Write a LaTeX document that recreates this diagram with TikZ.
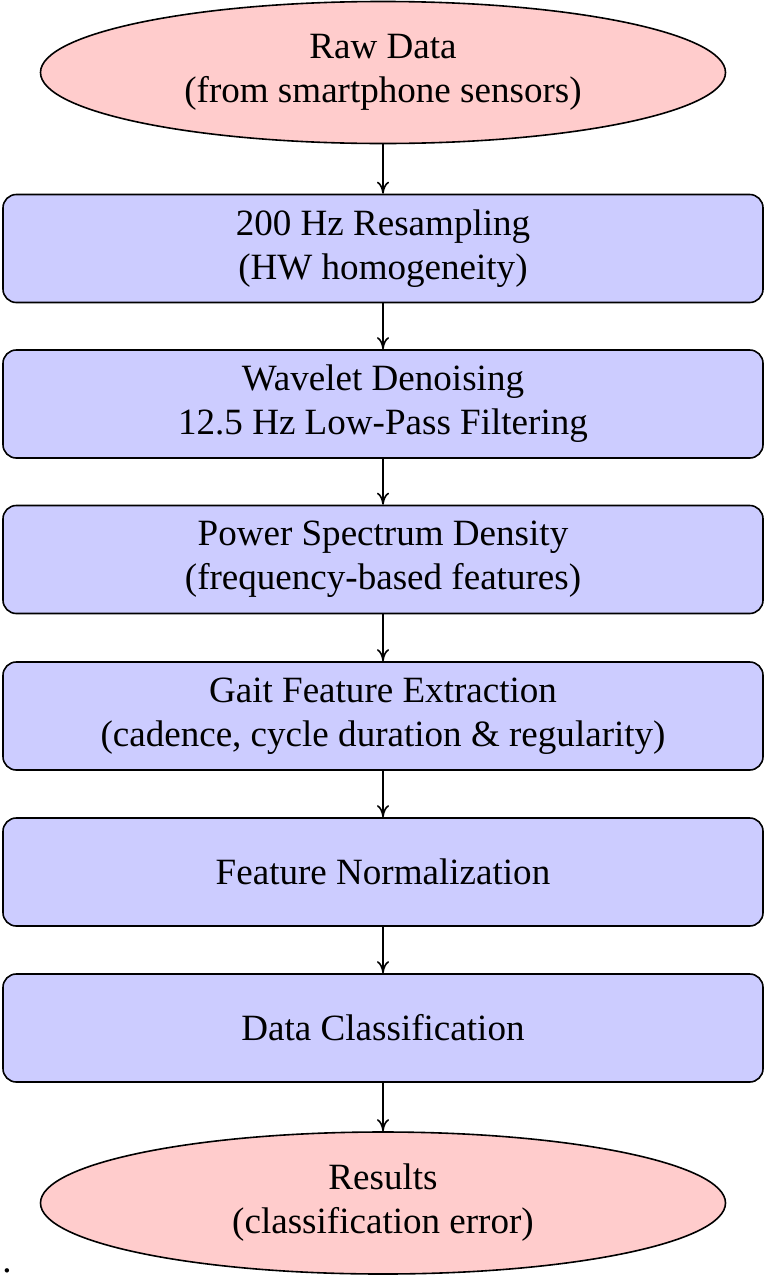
\documentclass[tikz,border=0pt]{standalone}
\usepackage{fontspec}
\setmainfont{Liberation Serif}
\usetikzlibrary{shapes.geometric,arrows.meta}
\begin{document}
\begin{tikzpicture}[x=0.75pt,y=-0.75pt,
  txt/.style={align=center,font=\fontsize{27.8}{33}\selectfont},
  term/.style={txt,ellipse,draw,line width=1.2pt,fill=red!20,minimum width=513.75pt,minimum height=106.5pt,inner sep=0pt},
  proc/.style={txt,rectangle,rounded corners=10pt,draw,line width=1.2pt,fill=blue!20,minimum width=570pt,minimum height=81pt,inner sep=0pt},
  arr/.style={line width=1.2pt,-{To[length=9pt,width=9pt]}}]
\useasboundingbox (0,0) rectangle (765,1278);
\node[term] (raw) at (383,72.5) {Raw Data\\(from smartphone sensors)};
\node[proc] (b1) at (383,248.5) {200 Hz Resampling\\(HW homogeneity)};
\node[proc] (b2) at (383,404) {Wavelet Denoising\\12.5 Hz Low-Pass Filtering};
\node[proc] (b3) at (383,559.5) {Power Spectrum Density\\(frequency-based features)};
\node[proc] (b4) at (383,716) {Gait Feature Extraction\\(cadence, cycle duration \& regularity)};
\node[proc] (b5) at (383,872) {Feature Normalization};
\node[proc] (b6) at (383,1028) {Data Classification};
\node[term] (res) at (383,1203) {Results\\(classification error)};
\node[font=\fontsize{27.8}{33}\selectfont,anchor=base west,inner sep=0pt] (dot) at (2,1272) {.};
\draw[arr] (raw) -- (b1);
\draw[arr] (b1) -- (b2);
\draw[arr] (b2) -- (b3);
\draw[arr] (b3) -- (b4);
\draw[arr] (b4) -- (b5);
\draw[arr] (b5) -- (b6);
\draw[arr] (b6) -- (res);
\end{tikzpicture}
\end{document}
